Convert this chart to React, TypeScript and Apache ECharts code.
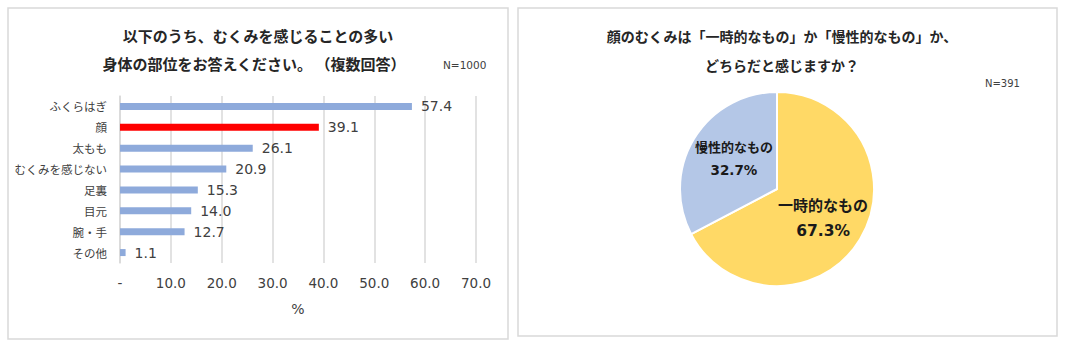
import React, { useEffect, useRef } from "react";
import * as echarts from "echarts";

const barCategories = ["ふくらはぎ", "顔", "太もも", "むくみを感じない", "足裏", "目元", "腕・手", "その他"];
const barValues = [57.4, 39.1, 26.1, 20.9, 15.3, 14.0, 12.7, 1.1];
const highlightCategory = "顔";
const xTicks = { min: 0, max: 70, interval: 10 };

const pieNames = ["一時的なもの", "慢性的なもの"];
const pieValues = [67.3, 32.7];

const leftTitle = ["以下のうち、むくみを感じることの多い", "身体の部位をお答えください。 （複数回答）"];
const rightTitle = ["顔のむくみは「一時的なもの」か「慢性的なもの」か、", "どちらだと感じますか？"];
const leftN = "N=1000";
const rightN = "N=391";

const JP = '"Noto Sans CJK JP", sans-serif';
const NUM = '"DejaVu Sans", sans-serif';

export default function App() {
  const ref = useRef<HTMLDivElement>(null);
  useEffect(() => {
    if (!ref.current) return;
    const chart = echarts.init(ref.current, null, { renderer: "svg" });
    const titleStyle = (x: number, y: number, text: string, size: number) => ({
      type: "text",
      x,
      y,
      style: {
        text,
        fill: "#262626",
        font: `bold ${size}px ${JP}`,
        textAlign: "center",
        textVerticalAlign: "middle",
      },
    });
    chart.setOption({
      animation: false,
      backgroundColor: "#ffffff",
      graphic: [
        { type: "rect", shape: { x: 8, y: 8, width: 500, height: 331 }, style: { fill: "none", stroke: "#d9d9d9", lineWidth: 1.5 } },
        { type: "rect", shape: { x: 518, y: 8, width: 539, height: 328 }, style: { fill: "none", stroke: "#d9d9d9", lineWidth: 1.5 } },
        titleStyle(258, 35, leftTitle[0], 15),
        titleStyle(254, 63, leftTitle[1], 15),
        titleStyle(782, 36, rightTitle[0], 14),
        titleStyle(782, 65, rightTitle[1], 14),
        {
          type: "text", x: 443, y: 65,
          style: { text: leftN, fill: "#404040", font: `10.5px ${NUM}`, textVerticalAlign: "middle" },
        },
        {
          type: "text", x: 985, y: 83,
          style: { text: rightN, fill: "#404040", font: `10px ${NUM}`, textVerticalAlign: "middle" },
        },
      ],
      grid: { left: 120, top: 96, width: 356, height: 167, containLabel: false },
      xAxis: {
        type: "value",
        min: xTicks.min,
        max: xTicks.max,
        interval: xTicks.interval,
        axisLine: { show: false },
        axisTick: { show: false },
        splitLine: { lineStyle: { color: "#d9d9d9", width: 1.5 } },
        axisLabel: {
          color: "#404040",
          fontFamily: NUM,
          fontSize: 13.5,
          margin: 13,
          formatter: (v: number) => (v === 0 ? "-" : v.toFixed(1)),
        },
        name: "%",
        nameLocation: "middle",
        nameGap: 39,
        nameTextStyle: { color: "#404040", fontFamily: NUM, fontSize: 14 },
      },
      yAxis: {
        type: "category",
        data: barCategories,
        inverse: true,
        axisTick: { show: false },
        axisLine: { show: true, lineStyle: { color: "#d9d9d9", width: 1.5 } },
        axisLabel: { color: "#404040", fontFamily: JP, fontSize: 11.5, margin: 13 },
      },
      series: [
        {
          type: "bar",
          barWidth: 7,
          data: barValues.map((v, i) => ({
            value: v,
            itemStyle: { color: barCategories[i] === highlightCategory ? "#ff0000" : "#8eaadb" },
          })),
          label: {
            show: true,
            position: "right",
            distance: 9,
            color: "#404040",
            fontFamily: NUM,
            fontSize: 14,
            formatter: (p: any) => Number(p.value).toFixed(1),
          },
        },
        {
          type: "pie",
          center: [777, 189],
          radius: 97,
          startAngle: 90,
          clockwise: true,
          itemStyle: { borderColor: "#ffffff", borderWidth: 2 },
          labelLine: { show: false },
          data: pieValues.map((v, i) => ({
            name: pieNames[i],
            value: v,
            itemStyle: { color: i === 0 ? "#ffd966" : "#b4c7e7" },
            label: {
              show: true,
              position: "inside",
              offset: i === 0 ? [2, 2] : [1, -4],
              formatter: `{a|${pieNames[i]}}\n{b|${v.toFixed(1)}%}`,
              rich: {
                a: { fontFamily: JP, fontWeight: "bold", fontSize: i === 0 ? 15 : 13, color: "#1a1a1a", lineHeight: i === 0 ? 26 : 23, align: "center" },
                b: { fontFamily: NUM, fontWeight: "bold", fontSize: i === 0 ? 15.5 : 13.5, color: "#1a1a1a", lineHeight: i === 0 ? 26 : 23, align: "center" },
              },
            },
          })),
        },
      ],
    });
    return () => chart.dispose();
  }, []);
  return <div ref={ref} style={{ position: "absolute", left: 0, top: 0, width: 1065, height: 344 }} />;
}
